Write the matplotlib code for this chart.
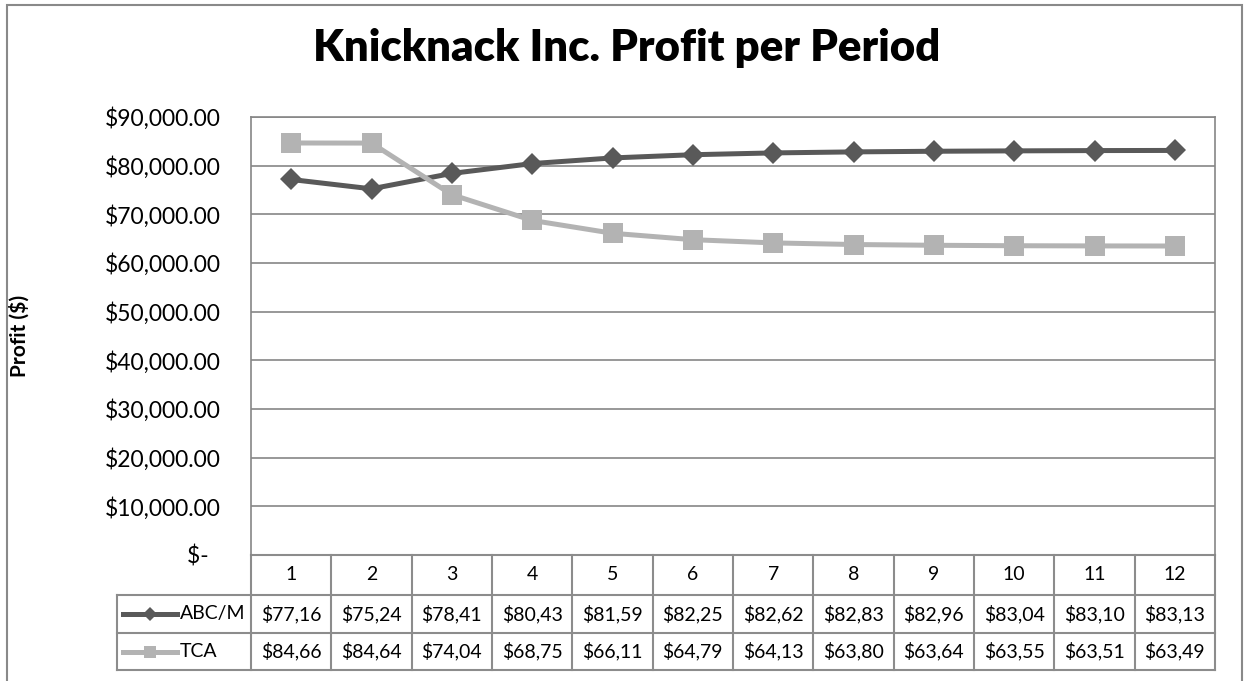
import matplotlib
matplotlib.use("Agg")
import matplotlib.pyplot as plt
from matplotlib.patches import Rectangle
from matplotlib.lines import Line2D
from matplotlib.ticker import FuncFormatter
import matplotlib.transforms as mtransforms

periods = [1, 2, 3, 4, 5, 6, 7, 8, 9, 10, 11, 12]
abcm = [77160, 75240, 78410, 80430, 81590, 82250, 82620, 82830, 82960, 83040, 83100, 83130]
tca = [84660, 84640, 74040, 68750, 66110, 64790, 64130, 63800, 63640, 63550, 63510, 63490]
series_names = ["ABC/M", "TCA"]

DARK = "#595959"
LIGHT = "#b3b3b3"
GRID = "#868686"
FONT = "Lato"

plt.rcParams["font.family"] = [FONT, "DejaVu Sans"]

W, H = 1247, 681
fig = plt.figure(figsize=(W / 100, H / 100), dpi=100)

# plot area in pixel coordinates
px_left, px_right, px_top, px_bottom = 251, 1215, 117, 555
ax = fig.add_axes([px_left / W, 1 - px_bottom / H,
                   (px_right - px_left) / W, (px_bottom - px_top) / H])

# outer chart border
fig.patches.append(Rectangle((7 / W, -0.02), (1242 - 7) / W, 1.02 - 5 / H,
                             transform=fig.transFigure, fill=False,
                             edgecolor="#898989", linewidth=1.5))

ax.plot(periods, abcm, color=DARK, lw=3.6, marker="D", ms=11,
        markeredgewidth=0, zorder=3)
ax.plot(periods, tca, color=LIGHT, lw=3.6, marker="s", ms=14,
        markeredgewidth=0, zorder=3)

ax.set_xlim(0.5, 12.5)
ax.set_ylim(0, 90000)
ax.set_yticks(range(0, 90001, 10000))
ax.yaxis.set_major_formatter(FuncFormatter(
    lambda v, p: "$-  " if v == 0 else f"${v:,.2f}"))
ax.tick_params(axis="y", length=0, pad=22, labelsize=16.5)
ax.set_xticks([])
ax.grid(axis="y", color=GRID, lw=1.2)
for s in ax.spines.values():
    s.set_color(GRID)
    s.set_linewidth(1.2)
ax.spines["bottom"].set_visible(False)

ax.set_ylabel("Profit ($)", fontsize=15, fontweight="bold", labelpad=0)
ax.yaxis.set_label_coords((30 - px_left) / (px_right - px_left), 0.5)

fig.text(627 / W, 1 - 48 / H, "Knicknack Inc. Profit per Period",
         ha="center", va="center", fontsize=31.5, fontweight="heavy")

# data table below the plot (x in data units, y in axes fraction)
trans = mtransforms.blended_transform_factory(ax.transData, ax.transAxes)
ah = px_bottom - px_top
rows_y = [0, -40 / ah, -78 / ah, -115 / ah]
leg_left = 0.5 - (px_left - 117) / (px_right - px_left) * 12
TBL = "#8c8c8c"

def hline(y, x0, x1):
    ax.add_line(Line2D([x0, x1], [y, y], transform=trans, color=TBL,
                       lw=1.5, clip_on=False))

def vline(x, y0, y1):
    ax.add_line(Line2D([x, x], [y0, y1], transform=trans, color=TBL,
                       lw=1.5, clip_on=False))

hline(rows_y[0], 0.5, 12.5)
for y in rows_y[1:]:
    hline(y, leg_left, 12.5)
vline(leg_left, rows_y[1], rows_y[3])
for i in range(13):
    vline(0.5 + i, rows_y[0], rows_y[3])

for p in periods:
    ax.text(p, (rows_y[0] + rows_y[1]) / 2, str(p), transform=trans,
            ha="center", va="center", fontsize=14)

for r, (name, vals, col, mk, ms) in enumerate(
        [(series_names[0], abcm, DARK, "D", 7), (series_names[1], tca, LIGHT, "s", 9)]):
    yc = (rows_y[r + 1] + rows_y[r + 2]) / 2
    lx0 = leg_left + 6 / 80.33
    lx1 = leg_left + 60 / 80.33
    ax.add_line(Line2D([lx0, lx1], [yc, yc], transform=trans, color=col,
                       lw=3.6, clip_on=False))
    ax.add_line(Line2D([(lx0 + lx1) / 2], [yc], transform=trans, color=col,
                       marker=mk, ms=ms, markeredgewidth=0, clip_on=False))
    ax.text(lx1 + 3 / 80.33, yc, name, transform=trans, ha="left",
            va="center", fontsize=14)
    for p, v in zip(periods, vals):
        ax.text(p, yc, f"${v:,.2f}"[:6], transform=trans, ha="center",
                va="center", fontsize=14)

fig.savefig("out.png", dpi=100)
